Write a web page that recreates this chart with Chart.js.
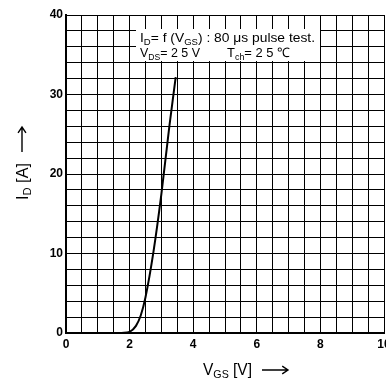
<!DOCTYPE html>
<html>
<head>
<meta charset="utf-8">
<script src="https://cdn.jsdelivr.net/npm/chart.js@4/dist/chart.umd.min.js"></script>
<style>
  html, body { margin: 0; padding: 0; background: #fff; }
  #wrap { width: 386px; height: 378px; }
</style>
</head>
<body>
<div id="wrap"><canvas id="c" width="386" height="378"></canvas></div>
<script>
// ---- data ----
const vgsValues = [1.75, 2.0, 2.2, 2.35, 2.5, 2.75, 3.0, 3.25, 3.45];   // V_GS [V]
const idValues  = [0,    0.15, 0.9, 2.2, 4.5, 10.2, 17.5, 26.0, 32.2];  // I_D [A]
const xTickLabels = [0, 2, 4, 6, 8, 10];
const yTickLabels = [0, 10, 20, 30, 40];

// ---- text ----
const noteLine1 = [["I", false], ["D", true], ["= f (V", false], ["GS", true], [") : 80 μs pulse test.", false]];
const noteLine2a = [["V", false], ["DS", true], ["= 2 5 V", false]];
const noteLine2b = [["T", false], ["ch", true], ["= 2 5 ℃", false]];
const xTitle = [["V", false], ["GS", true], [" [V]", false]];
const yTitle = [["I", false], ["D", true], [" [A]", false]];

const FAM = '"Liberation Sans", Arial, sans-serif';

function richWidth(ctx, parts, size) {
  let w = 0;
  for (const [t, sub] of parts) {
    ctx.font = (sub ? Math.round(size * 0.7) : size) + 'px ' + FAM;
    w += ctx.measureText(t).width;
  }
  return w;
}
function drawRich(ctx, x, y, parts, size, targetW) {
  const w = richWidth(ctx, parts, size);
  ctx.save();
  ctx.translate(x, y);
  if (targetW) ctx.scale(targetW / w, 1);
  ctx.textBaseline = 'alphabetic';
  ctx.textAlign = 'left';
  let cx = 0;
  for (const [t, sub] of parts) {
    ctx.font = (sub ? Math.round(size * 0.7) : size) + 'px ' + FAM;
    ctx.fillText(t, cx, sub ? size * 0.2 : 0);
    cx += ctx.measureText(t).width;
  }
  ctx.restore();
}
function arrow(ctx, x1, y1, x2, y2) {
  const a = Math.atan2(y2 - y1, x2 - x1);
  ctx.save();
  ctx.strokeStyle = '#000';
  ctx.lineWidth = 1.4;
  ctx.beginPath();
  ctx.moveTo(x1, y1); ctx.lineTo(x2, y2);
  ctx.moveTo(x2 - 7 * Math.cos(a - 0.6), y2 - 7 * Math.sin(a - 0.6));
  ctx.lineTo(x2, y2);
  ctx.lineTo(x2 - 7 * Math.cos(a + 0.6), y2 - 7 * Math.sin(a + 0.6));
  ctx.stroke();
  ctx.restore();
}

const decor = {
  id: 'decor',
  afterDatasetsDraw(chart) {
    const ctx = chart.ctx;
    // annotation box
    ctx.save();
    ctx.fillStyle = '#fff';
    ctx.fillRect(136, 29, 184, 32);
    ctx.fillStyle = '#000';
    drawRich(ctx, 140, 42, noteLine1, 13, 175);
    drawRich(ctx, 140, 57, noteLine2a, 13, 60);
    drawRich(ctx, 227, 57, noteLine2b, 13, 63);
    ctx.restore();
  },
  afterDraw(chart) {
    const ctx = chart.ctx;
    ctx.save();
    ctx.fillStyle = '#000';
    // x title
    drawRich(ctx, 203, 375, xTitle, 16, 49);
    arrow(ctx, 262, 370, 288, 370);
    // y title (rotated)
    ctx.save();
    ctx.translate(28, 200);
    ctx.rotate(-Math.PI / 2);
    drawRich(ctx, 0, 0, yTitle, 16, 37);
    ctx.restore();
    arrow(ctx, 22, 152, 22, 127);
    ctx.restore();
  }
};

new Chart(document.getElementById('c'), {
  type: 'scatter',
  data: {
    datasets: [{
      data: vgsValues.map((v, i) => ({ x: v, y: idValues[i] })),
      showLine: true,
      borderColor: '#000',
      borderWidth: 2,
      pointRadius: 0,
      cubicInterpolationMode: 'monotone',
      fill: false
    }]
  },
  options: {
    responsive: false,
    animation: false,
    devicePixelRatio: 1,
    layout: { padding: { top: 15, right: 2, left: 0, bottom: 0 } },
    plugins: { legend: { display: false }, tooltip: { enabled: false } },
    scales: {
      x: {
        type: 'linear', min: 0, max: 10,
        grid: { color: '#000', lineWidth: 1, drawTicks: false },
        border: { color: '#000', width: 2 },
        ticks: {
          stepSize: 0.5, autoSkip: false, maxRotation: 0, padding: 4,
          color: '#000', font: { family: FAM, size: 12, weight: 'bold' },
          callback: v => xTickLabels.includes(v) ? String(v) : ''
        },
        afterFit(s) { s.height = 45; s.paddingLeft = 0; s.paddingRight = 0; }
      },
      y: {
        type: 'linear', min: 0, max: 40,
        grid: { color: '#000', lineWidth: 1, drawTicks: false },
        border: { color: '#000', width: 2 },
        ticks: {
          stepSize: 2, autoSkip: false, padding: 3,
          color: '#000', font: { family: FAM, size: 12, weight: 'bold' },
          callback: v => yTickLabels.includes(v) ? String(v) : ''
        },
        afterFit(s) { s.width = 66; s.paddingTop = 0; s.paddingBottom = 0; }
      }
    }
  },
  plugins: [decor]
});
</script>
</body>
</html>
